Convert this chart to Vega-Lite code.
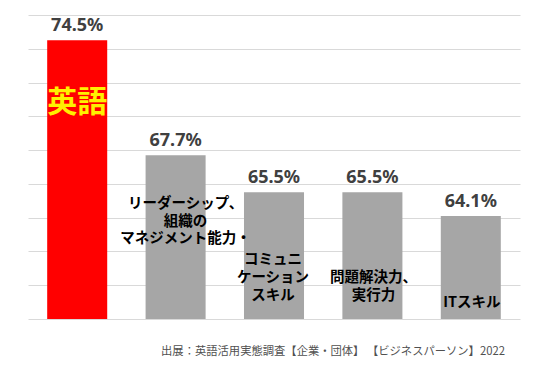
{
  "$schema": "https://vega.github.io/schema/vega-lite/v6.json",
  "width": 492,
  "height": 304,
  "padding": {"left": 28, "top": 15, "right": 30, "bottom": 20},
  "background": "#ffffff",
  "config": {"view": {"stroke": null}},
  "title": {
    "text": "出展：英語活用実態調査【企業・団体】 【ビジネスパーソン】2022",
    "orient": "bottom",
    "anchor": "end",
    "frame": "group",
    "font": "Noto Sans CJK JP",
    "fontSize": 11.3,
    "fontWeight": "normal",
    "color": "#505050",
    "offset": 27,
    "dx": -15
  },
  "data": {
    "values": [
      {"skill": "英語", "value": 74.5},
      {"skill": "リーダーシップ、\n組織の\nマネジメント能力・", "value": 67.7},
      {"skill": "コミュニ\nケーション\nスキル", "value": 65.5},
      {"skill": "問題解決力、\n実行力", "value": 65.5},
      {"skill": "ITスキル", "value": 64.1}
    ]
  },
  "encoding": {
    "x": {"field": "skill", "type": "nominal", "sort": null, "axis": null,
          "scale": {"paddingInner": 0.39, "paddingOuter": 0.195}},
    "y": {"field": "value", "type": "quantitative",
          "scale": {"domain": [58, 76], "nice": false, "zero": false},
          "axis": {"values": [58, 60, 62, 64, 66, 68, 70, 72, 74, 76], "labels": false, "ticks": false, "domain": false, "title": null, "grid": true, "gridColor": "#D9D9D9", "gridWidth": 1}}
  },
  "layer": [
    {
      "mark": {"type": "bar"},
      "encoding": {
        "y2": {"datum": 58},
        "color": {"condition": {"test": "datum.skill === '英語'", "value": "#FF0000"}, "value": "#A6A6A6"}
      }
    },
    {
      "transform": [{"calculate": "format(datum.value, '.1f') + '%'", "as": "pct"}],
      "mark": {"type": "text", "baseline": "alphabetic", "dy": -9, "font": "Noto Sans", "fontSize": 18, "fontWeight": "bold", "color": "#404040"},
      "encoding": {"text": {"field": "pct"}}
    },
    {
      "transform": [{"filter": "datum.skill === '英語'"}],
      "mark": {"type": "text", "baseline": "middle", "dy": 63, "font": "Noto Sans CJK JP", "fontSize": 30, "fontWeight": "bold", "color": "#FFF000"},
      "encoding": {"text": {"field": "skill"}}
    },
    {
      "transform": [{"filter": "indexof(datum.skill, 'リーダー') === 0"}],
      "mark": {"type": "text", "baseline": "middle", "dy": 49, "dx": 10, "lineBreak": "\n", "lineHeight": 17.5, "font": "Noto Sans CJK JP", "fontSize": 14.5, "fontWeight": "bold", "color": "#000000"},
      "encoding": {"text": {"field": "skill"}}
    },
    {
      "transform": [{"filter": "indexof(datum.skill, 'コミュニ') === 0"}],
      "mark": {"type": "text", "baseline": "middle", "dy": 68, "dx": -1, "lineBreak": "\n", "lineHeight": 18, "font": "Noto Sans CJK JP", "fontSize": 14.5, "fontWeight": "bold", "color": "#000000"},
      "encoding": {"text": {"field": "skill"}}
    },
    {
      "transform": [{"filter": "indexof(datum.skill, '問題') === 0"}],
      "mark": {"type": "text", "baseline": "middle", "dy": 86, "dx": 1, "lineBreak": "\n", "lineHeight": 18, "font": "Noto Sans CJK JP", "fontSize": 14.5, "fontWeight": "bold", "color": "#000000"},
      "encoding": {"text": {"field": "skill"}}
    },
    {
      "transform": [{"filter": "datum.skill === 'ITスキル'"}],
      "mark": {"type": "text", "baseline": "middle", "dy": 87, "dx": 1, "font": "Noto Sans CJK JP", "fontSize": 14.5, "fontWeight": "bold", "color": "#000000"},
      "encoding": {"text": {"field": "skill"}}
    }
  ]
}
